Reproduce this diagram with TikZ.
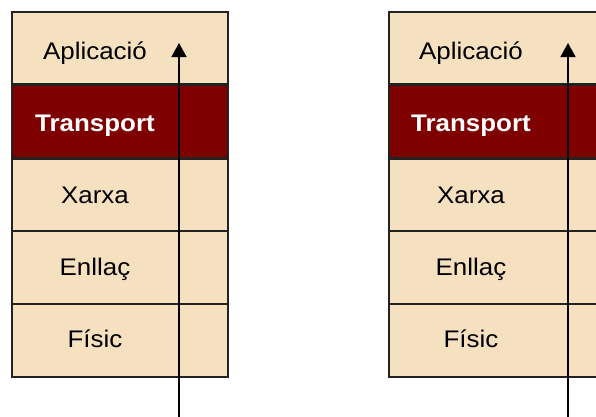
\documentclass[tikz,border=0pt]{standalone}
\usepackage{fontspec}
\setmainfont{Liberation Sans}
\usetikzlibrary{arrows.meta}
\definecolor{layerfill}{HTML}{F5E0C0}
\definecolor{layerhi}{HTML}{7F0000}
\definecolor{edge}{HTML}{222222}
\begin{document}
\begin{tikzpicture}[x=1pt,y=-1pt,
  layer/.style={draw=edge,line width=1.5pt,fill=layerfill,minimum width=216pt,
    minimum height=73pt,inner sep=0pt,anchor=north west},
  hilayer/.style={layer,fill=layerhi},
  lbl/.style={font=\fontsize{24}{26}\selectfont,text=black,inner sep=0pt,anchor=base,xscale=1.08},
  hilbl/.style={lbl,font=\fontsize{24}{26}\selectfont\bfseries,text=white},
  flow/.style={draw=black,line width=1.6pt,-{Triangle[width=15pt,length=14pt]}}]
\useasboundingbox (0,0) rectangle (596,416);
\clip (0,0) rectangle (596,416);
\fill[white] (0,0) rectangle (596,416);
% left stack
\node[layer]   (la) at (11,11)  {};
\node[hilayer] (lt) at (11,84)  {};
\node[layer]   (lx) at (11,158) {};
\node[layer]   (le) at (11,230) {};
\node[layer]   (lf) at (11,303) {};
\draw[edge,line width=1.5pt] (11,84) -- (227,84) (11,158) -- (227,158);
\node[lbl]   at (95,59.5) {Aplicació};
\node[hilbl] at (95,131)  {Transport};
\node[lbl]   at (95,203)  {Xarxa};
\node[lbl]   at (95,275)  {Enllaç};
\node[lbl]   at (95,347)  {Físic};
% right stack
\node[layer]   (ra) at (388,11)  {};
\node[hilayer] (rt) at (388,84)  {};
\node[layer]   (rx) at (388,158) {};
\node[layer]   (re) at (388,230) {};
\node[layer]   (rf) at (388,303) {};
\draw[edge,line width=1.5pt] (388,84) -- (604,84) (388,158) -- (604,158);
\node[lbl]   at (471,59.5) {Aplicació};
\node[hilbl] at (471,131)  {Transport};
\node[lbl]   at (471,203)  {Xarxa};
\node[lbl]   at (471,275)  {Enllaç};
\node[lbl]   at (471,347)  {Físic};
% upward flows through each stack
\coordinate (lin)  at (179,418);
\coordinate (lout) at (179,43);
\coordinate (rin)  at (568,418);
\coordinate (rout) at (568,43);
\draw[flow] (lin) -- (lout);
\draw[flow] (rin) -- (rout);
\end{tikzpicture}
\end{document}
